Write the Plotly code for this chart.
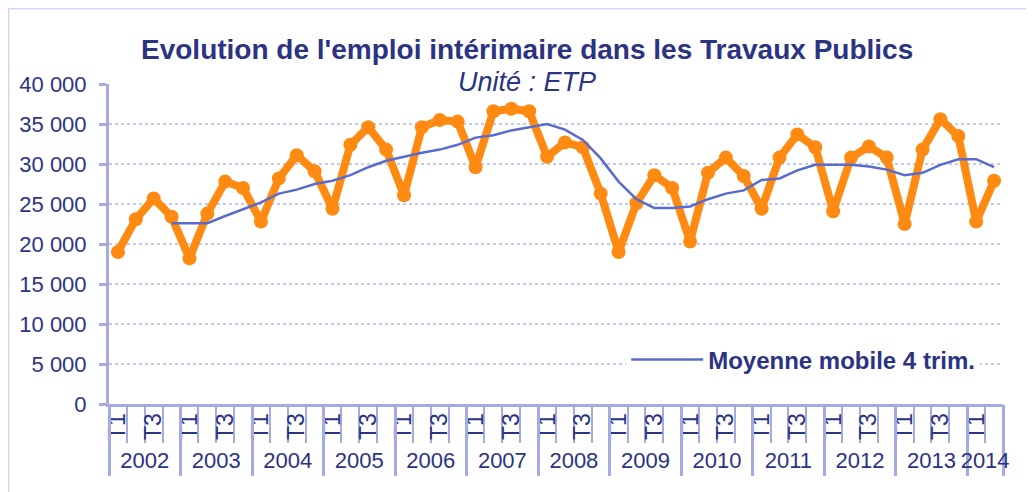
import plotly.graph_objects as go

# quarterly data, 2002 T1 -> 2014 T2
annees = ['2002', '2003', '2004', '2005', '2006', '2007', '2008',
          '2009', '2010', '2011', '2012', '2013', '2014']
trimestres = ['T1', 'T2', 'T3', 'T4']

emploi = [19000, 23100, 25700, 23400,
          18200, 23800, 27800, 27000,
          22800, 28200, 31100, 29100,
          24400, 32400, 34600, 31800,
          26100, 34600, 35500, 35300,
          29600, 36600, 36900, 36600,
          30900, 32700, 32100, 26300,
          19000, 25100, 28600, 27000,
          20300, 28900, 30800, 28500,
          24400, 30800, 33700, 32100,
          24100, 30800, 32200, 30800,
          22500, 31800, 35600, 33500,
          22800, 27900]

moyenne = [None, None, None, 22600,
           22600, 22600, 23500, 24400,
           25200, 26300, 26800, 27500,
           27900, 28600, 29600, 30400,
           30900, 31400, 31800, 32400,
           33300, 33600, 34200, 34600,
           35000, 34300, 33000, 30700,
           27800, 25600, 24500, 24500,
           24700, 25600, 26300, 26700,
           28000, 28200, 29200, 29900,
           29900, 29900, 29700, 29300,
           28600, 28900, 29900, 30600,
           30600, 29600]

n = len(emploi)
idx = list(range(n))
labels = [f"{annees[i // 4]} {trimestres[i % 4]}" for i in idx]

navy = '#2B3382'
lavender = '#A4ABE3'
grid = '#C3C8EE'
orange = '#FF8A12'
bleu = '#5A6BCE'
fontname = 'Arial, Liberation Sans, sans-serif'

# tick positions on the category axis
q_vals = [i for i in idx if i % 4 in (0, 2)]
q_text = [trimestres[i % 4] for i in q_vals]
q_bounds = [i - 0.5 for i in range(n + 1)]
y_bounds = [4 * k - 0.5 for k in range(len(annees))] + [n - 0.5]
y_centers = [min(4 * k + 1.5, (4 * k - 0.5 + n - 0.5) / 2) for k in range(len(annees))]

fig = go.Figure()
fig.add_trace(go.Scatter(x=idx, y=emploi, mode='lines+markers', name='Emploi intérimaire',
                         line=dict(color=orange, width=8), marker=dict(size=14, color=orange),
                         text=labels, showlegend=False))
fig.add_trace(go.Scatter(x=idx, y=moyenne, mode='lines', name='Moyenne mobile 4 trim.',
                         line=dict(color=bleu, width=2.5), xaxis='x2', text=labels))

# chart border
fig.add_shape(type='rect', xref='paper', yref='paper', x0=-0.113, x1=1.08, y0=-0.35, y1=1.2375,
              line=dict(color='#D3D7F3', width=3), layer='below')

fig.add_annotation(text="Evolution de l'emploi intérimaire dans les Travaux Publics",
                   xref='paper', yref='paper', x=0.468, y=1.108, showarrow=False,
                   xanchor='center', yanchor='middle',
                   font=dict(size=28, color=navy, family=fontname, weight='bold'))
fig.add_annotation(text="Unité : ETP", xref='paper', yref='paper', x=0.468, y=1.005,
                   showarrow=False, xanchor='center', yanchor='middle',
                   font=dict(size=27, color=navy, family=fontname, style='italic'))

# the page body adds an 8px offset, margins compensate for it
fig.update_layout(
    width=1034, height=492,
    margin=dict(l=101, r=39, t=76, b=96, autoexpand=False),
    paper_bgcolor='white', plot_bgcolor='white',
    font=dict(family=fontname, color=navy),
    separators=', ',
    legend=dict(x=0.5785, y=0.1375, xanchor='left', yanchor='middle', bgcolor='white',
                font=dict(size=24, color=navy, weight='bold'), itemwidth=72),
    xaxis=dict(range=[-0.5, n - 0.5], tickmode='array', tickvals=q_vals, ticktext=q_text,
               tickangle=-90, ticks='', showgrid=False, zeroline=False, automargin=False,
               showline=True, linecolor=lavender, linewidth=3, ticklabelstandoff=-3,
               tickfont=dict(size=23, color=navy),
               minor=dict(tickmode='array', tickvals=q_bounds, ticks='outside', ticklen=36,
                          tickwidth=2, tickcolor=lavender, showgrid=False)),
    xaxis2=dict(range=[-0.5, n - 0.5], overlaying='x', anchor='y', side='bottom',
                tickmode='array', tickvals=y_centers, ticktext=annees, ticks='',
                showgrid=False, zeroline=False, showline=False, automargin=False,
                tickfont=dict(size=22, color=navy), ticklabelstandoff=41,
                minor=dict(tickmode='array', tickvals=y_bounds, ticks='outside', ticklen=71,
                           tickwidth=2.5, tickcolor=lavender, showgrid=False)),
    yaxis=dict(range=[0, 40000], dtick=5000, tickformat=',', showgrid=True,
               gridcolor=grid, griddash='dot', gridwidth=2, zeroline=False, automargin=False,
               showline=True, linecolor=lavender, linewidth=3, ticklabelstandoff=8,
               ticks='outside', ticklen=7, tickwidth=3, tickcolor=lavender,
               tickfont=dict(size=22, color=navy)),
)

fig.write_html("out.html")
